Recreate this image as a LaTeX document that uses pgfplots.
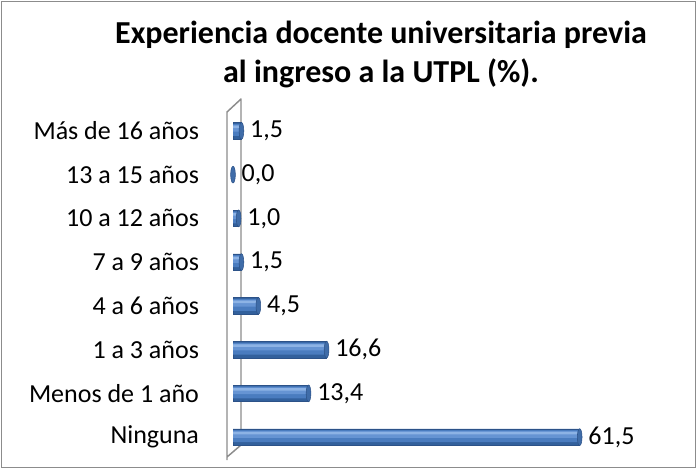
\documentclass[border=0pt]{standalone}
\usepackage{pgfplots}
\pgfplotsset{compat=1.18}
\usepackage{fontspec}
\setmainfont{Carlito}
\definecolor{barmid}{HTML}{4A7CBF}
\definecolor{barup}{HTML}{6694D3}
\definecolor{bartop}{HTML}{8DB3E5}
\definecolor{barbot}{HTML}{32609C}
\definecolor{baredge}{HTML}{2C5288}
\definecolor{capc}{HTML}{3F6CA8}
\definecolor{wallc}{HTML}{8C8C8C}
\begin{document}
\begin{tikzpicture}
\path[use as bounding box] (0pt,0pt) rectangle (522pt,-351pt);
\draw[color=wallc, line width=0.75pt] (0.75pt,-0.75pt) rectangle (521.25pt,-350.25pt);
\draw[color=wallc, line width=1.1pt, line join=round] (170.25pt,-345pt) -- (170.25pt,-84pt) -- (180.75pt,-74.25pt) -- (180.75pt,-333.75pt) -- (170.25pt,-342.75pt);
\node[align=center, font=\fontsize{24}{29}\selectfont\bfseries] at (285.75pt,-41pt) {Experiencia docente universitaria previa\\al ingreso a la UTPL (\%).};
\begin{axis}[
  at={(174.75pt,-344.25pt)}, anchor=south west,
  scale only axis, width=305.25pt, height=262.5pt,
  xmin=0, xmax=72.2, ymin=-0.5, ymax=7.5,
  clip=false,
  axis line style={draw=none}, tick style={draw=none},
  xtick=\empty,
  ytick={0,...,7},
  yticklabels={Ninguna, Menos de 1 año, 1 a 3 años, 4 a 6 años, 7 a 9 años, 10 a 12 años, 13 a 15 años, Más de 16 años},
  yticklabel style={font=\fontsize{19.5}{23}\selectfont, anchor=east, xshift=-22pt},
]
\addplot[xbar, bar shift=0pt, bar width=12.5pt, draw=baredge, line width=0.4pt, fill=barbot,
  nodes near coords, point meta=x,
  nodes near coords style={font=\fontsize{19.5}{23}\selectfont, anchor=west, xshift=3pt, text=black, /pgf/number format/.cd, assume math mode=true, use comma, fixed, fixed zerofill, precision=1}]
  coordinates {(61.5,0) (13.4,1) (16.6,2) (4.5,3) (1.5,4) (1.0,5) (0.0,6) (1.5,7)};
\addplot[xbar, bar shift=0.8pt, bar width=9pt, draw=none, fill=barmid]
  coordinates {(61.5,0) (13.4,1) (16.6,2) (4.5,3) (1.5,4) (1.0,5) (0.0,6) (1.5,7)};
\addplot[xbar, bar shift=2pt, bar width=5pt, draw=none, fill=barup]
  coordinates {(61.5,0) (13.4,1) (16.6,2) (4.5,3) (1.5,4) (1.0,5) (0.0,6) (1.5,7)};
\addplot[xbar, bar shift=3pt, bar width=2pt, draw=none, fill=bartop]
  coordinates {(61.5,0) (13.4,1) (16.6,2) (4.5,3) (1.5,4) (1.0,5) (0.0,6) (1.5,7)};
\addplot[only marks, mark=*, mark size=6.3pt, mark options={xscale=0.28, fill=capc, draw=baredge, line width=0.4pt}]
  coordinates {(61.5,0) (13.4,1) (16.6,2) (4.5,3) (1.5,4) (1.0,5) (0.0,6) (1.5,7)};
\end{axis}
\end{tikzpicture}
\end{document}
